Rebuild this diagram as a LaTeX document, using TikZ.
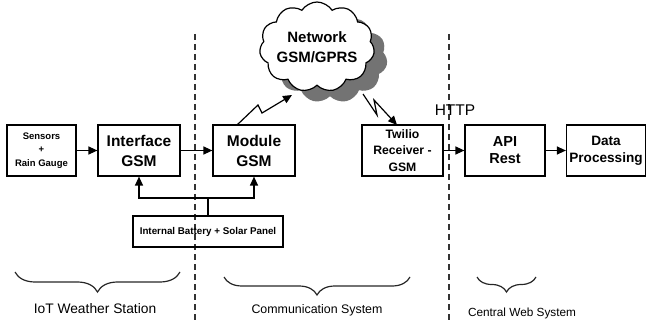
\documentclass[tikz,border=0pt]{standalone}
\usepackage{fontspec}
\setmainfont{Liberation Sans}
\usetikzlibrary{arrows.meta,shapes.symbols,decorations.pathreplacing}
\begin{document}
\begin{tikzpicture}[x=1pt,y=-1pt,
  box/.style={draw, line width=1.2pt, inner sep=0pt, align=center, minimum height=51pt},
  arr/.style={line width=1.2pt, -{Triangle[length=9pt,width=8pt]}},
  conn/.style={line width=1.2pt},
  sep/.style={line width=1.6pt, dash pattern=on 6pt off 4pt, black!80},
  brc/.style={line width=1.2pt, black!85, decorate, decoration={brace, mirror, amplitude=#1}},
  lab/.style={inner sep=0pt, text=black},
  cloudshape/.style={cloud, cloud puffs=11, cloud puff arc=115, minimum width=115pt, minimum height=90pt, inner sep=0pt}
]
\useasboundingbox (0,0) rectangle (647,320);

% separators
\draw[sep] (195,34) -- (195,320);
\draw[sep] (449,34) -- (449,320);

% cloud
\node[cloudshape, fill=black!55, draw=none] (shadow) at (330,58) {};
\node[cloudshape, fill=white, draw, line width=1.2pt] (cl) at (317,47) {};
\node[lab, align=center, font=\bfseries\fontsize{15}{20}\selectfont] (net) at (cl) {Network\\GSM/GPRS};

% boxes
\node[box, minimum width=69pt, font=\bfseries\fontsize{9.5}{13.5}\selectfont] (sen) at (41.5,150.5) {Sensors\\+\\Rain Gauge};
\node[box, minimum width=82pt, font=\bfseries\fontsize{15.5}{20}\selectfont] (ifc) at (139,150.5) {Interface\\GSM};
\node[box, minimum width=82pt, font=\bfseries\fontsize{15.5}{20}\selectfont] (mod) at (254,150.5) {Module\\GSM};
\node[box, minimum width=150pt, minimum height=31pt, font=\bfseries\fontsize{9.8}{12}\selectfont] (bat) at (208,231.5) {Internal Battery + Solar Panel};
\node[box, minimum width=81pt, font=\bfseries\fontsize{12.2}{16.5}\selectfont] (tw) at (402.5,150.5) {Twilio\\Receiver -\\GSM};
\node[box, minimum width=80pt, font=\bfseries\fontsize{14.5}{17}\selectfont] (api) at (505,150.5) {API\\Rest};
\node[box, minimum width=79pt, font=\bfseries\fontsize{13.6}{17}\selectfont] (dat) at (606,150.5) {Data\\Processing};

\node[lab, font=\fontsize{15.5}{18}\selectfont] (http) at (455,110) {HTTP};

% arrows
\draw[arr] (sen) -- (ifc);
\draw[arr] (ifc) -- (mod);
\draw[arr] (tw) -- (api);
\draw[arr] (api) -- (dat);

\coordinate (j) at (208,198);
\draw[conn] (bat) -- (j);
\draw[arr] (j) -| (ifc);
\draw[arr] (j) -| (mod);

% lightning links
\coordinate (m0) at (237,125);
\coordinate (c1) at (292,95);
\draw[arr, line join=miter] (m0) -- (258,105) -- (262,113) -- (c1);
\coordinate (c2) at (363,94);
\coordinate (t0) at (397,125);
\draw[arr, line join=miter] (c2) -- (377,115) -- (374,100) -- (t0);

% braces
\draw[brc=20pt] (15,272) -- (180,272);
\draw[brc=18pt] (224,277) -- (410,277);
\draw[brc=15pt] (477,277) -- (536,277);

\node[lab, font=\fontsize{13.8}{15}\selectfont] (l1) at (95,309) {IoT Weather Station};
\node[lab, font=\fontsize{12.4}{15}\selectfont] (l2) at (317,310) {Communication System};
\node[lab, font=\fontsize{11.8}{15}\selectfont] (l3) at (522,313) {Central Web System};
\end{tikzpicture}
\end{document}
